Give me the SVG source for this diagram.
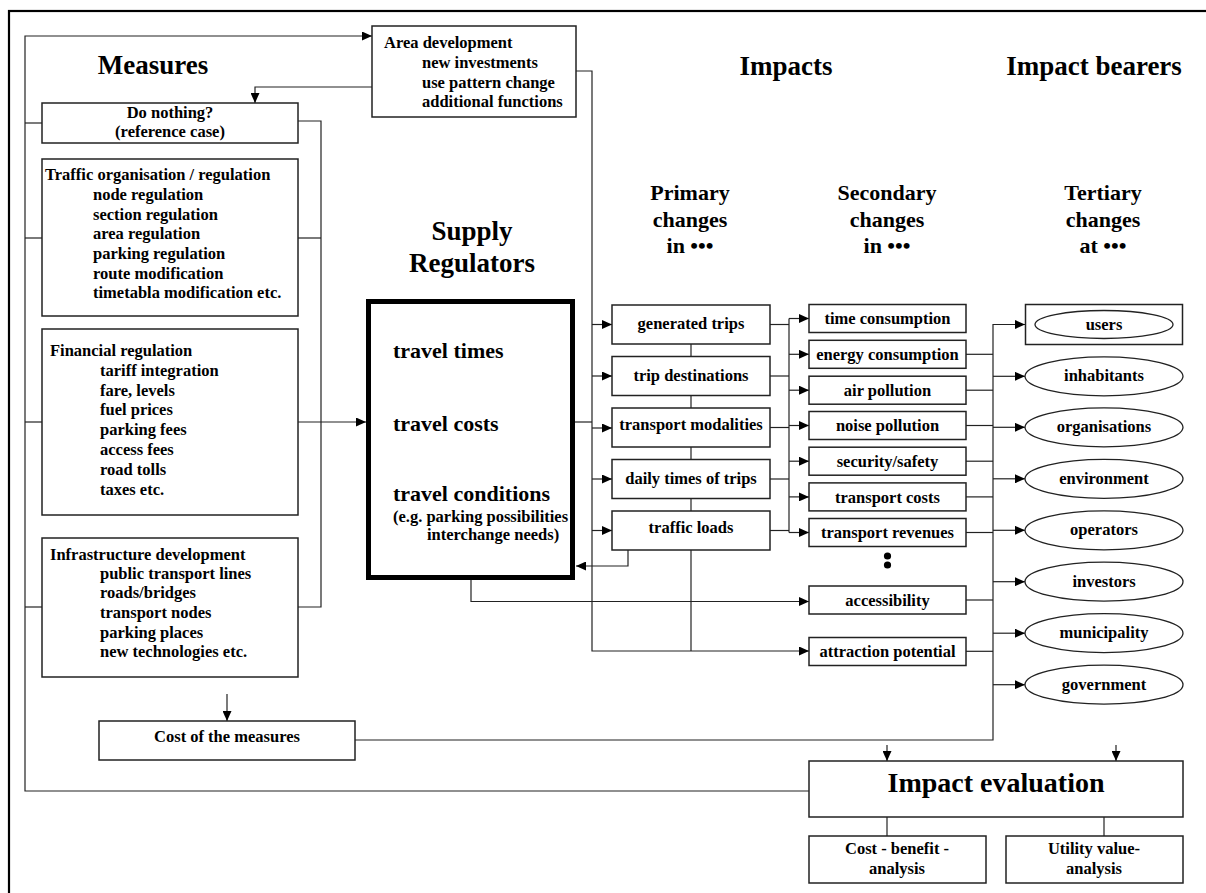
<svg xmlns="http://www.w3.org/2000/svg" width="1206" height="893" viewBox="0 0 1206 893">
  <defs>
    <marker id="arrow" markerUnits="userSpaceOnUse" markerWidth="11" markerHeight="9" refX="10" refY="4.5" orient="auto">
      <path d="M0,0 L10,4.5 L0,9 z" fill="#000"/>
    </marker>
    <style>
      text { font-family: "Liberation Serif", "Times New Roman", serif; font-weight: bold; fill: #000; }
      .box { fill: #fff; stroke: #222; stroke-width: 1.5; }
      .thick { fill: #fff; stroke: #000; stroke-width: 5; }
      .ell { fill: #fff; stroke: #222; stroke-width: 1.3; }
      .title { font-size: 27px; text-anchor: middle; }
      .head { font-size: 22px; text-anchor: middle; }
      .lbl { font-size: 16.5px; }
      .c { text-anchor: middle; }
      .big { font-size: 22px; }
      .conn path { fill: none; stroke: #222; stroke-width: 1.2; }
      .conn path.a { marker-end: url(#arrow); }
    </style>
  </defs>

  <rect width="1206" height="893" fill="#fff"/>
  <!-- page frame (open to the right and bottom) -->
  <rect x="9" y="11" width="1300" height="1000" fill="none" stroke="#000" stroke-width="2.2"/>

  <!-- headings -->
  <g id="headings">
    <text class="title" x="153" y="74">Measures</text>
    <text class="title" x="786" y="75">Impacts</text>
    <text class="title" x="1094" y="75">Impact bearers</text>
    <text class="title" x="472" y="240">Supply</text>
    <text class="title" x="472" y="272">Regulators</text>
    <text class="head" x="690" y="200">Primary</text>
    <text class="head" x="690" y="227">changes</text>
    <text class="head" x="690" y="253">in •••</text>
    <text class="head" x="887" y="200">Secondary</text>
    <text class="head" x="887" y="227">changes</text>
    <text class="head" x="887" y="253">in •••</text>
    <text class="head" x="1103" y="200">Tertiary</text>
    <text class="head" x="1103" y="227">changes</text>
    <text class="head" x="1103" y="253">at •••</text>
  </g>

  <!-- connectors -->
  <g id="connectors" class="conn">
    <!-- feedback loop round the measures -->
    <path class="a" d="M809,791 H25 V36 H372"/>
    <path class="a" d="M372,87 H255 V103"/>
    <!-- left spine -->
    <path d="M25,123 H42"/>
    <path d="M25,238 H42"/>
    <path d="M25,422 H42"/>
    <path d="M25,607 H42"/>
    <!-- right spine -->
    <path d="M298,121 H321 V607 H298"/>
    <path d="M298,238 H321"/>
    <path class="a" d="M298,422 H366"/>
    <!-- measures to cost -->
    <path class="a" d="M227,694 V721"/>
    <!-- cost to bearers bracket -->
    <path class="a" d="M355,740 H993 V324.5 H1025"/>
    <!-- area development to impacts spine -->
    <path class="a" d="M576,71 H592 V651 H809"/>
    <path d="M575,422 H592"/>
    <path class="a" d="M592,324.5 H612"/>
    <path class="a" d="M592,376 H612"/>
    <path class="a" d="M592,428 H612"/>
    <path class="a" d="M592,479 H612"/>
    <path class="a" d="M592,530.5 H612"/>
    <!-- primary chain -->
    <path d="M691,344 V356.5"/>
    <path d="M691,395.5 V408"/>
    <path d="M691,447 V459.5"/>
    <path d="M691,498.5 V511"/>
    <path d="M691,550 V651"/>
    <!-- traffic loads back to supply -->
    <path class="a" d="M628,550 V566 H576"/>
    <!-- supply to accessibility -->
    <path class="a" d="M471,580 V601.5 H809"/>
    <!-- primary to secondary -->
    <path d="M770,324.5 H789"/>
    <path d="M770,376 H789"/>
    <path d="M770,427.5 H789"/>
    <path d="M770,479 H789"/>
    <path d="M770,530.5 H789"/>
    <path d="M789,318.5 V532.5"/>
    <path class="a" d="M789,318.5 H809"/>
    <path class="a" d="M789,354.3 H809"/>
    <path class="a" d="M789,390.2 H809"/>
    <path class="a" d="M789,425.5 H809"/>
    <path class="a" d="M789,461.2 H809"/>
    <path class="a" d="M789,496.9 H809"/>
    <path class="a" d="M789,532.5 H809"/>
    <!-- secondary to bearers -->
    <path d="M966,354.3 H993"/>
    <path d="M966,390.2 H993"/>
    <path d="M966,425.5 H993"/>
    <path d="M966,461.2 H993"/>
    <path d="M966,496.9 H993"/>
    <path d="M966,532.5 H993"/>
    <path d="M966,600 H993"/>
    <path d="M966,651.3 H993"/>
    <path class="a" d="M993,376.3 H1025"/>
    <path class="a" d="M993,427.3 H1025"/>
    <path class="a" d="M993,478.8 H1025"/>
    <path class="a" d="M993,530.3 H1025"/>
    <path class="a" d="M993,581.7 H1025"/>
    <path class="a" d="M993,633.2 H1025"/>
    <path class="a" d="M993,684.7 H1025"/>
    <!-- into evaluation -->
    <path class="a" d="M887,745 V761"/>
    <path class="a" d="M1116,745 V761"/>
    <path d="M887,817 V836"/>
    <path d="M1104,817 V836"/>
  </g>

  <!-- measures -->
  <g id="area-development">
    <rect class="box" x="372" y="26" width="204" height="91"/>
    <text class="lbl" x="384" y="48">Area development</text>
    <text class="lbl" x="422" y="68">new investments</text>
    <text class="lbl" x="422" y="88">use pattern change</text>
    <text class="lbl" x="422" y="107">additional functions</text>
  </g>
  <g id="do-nothing">
    <rect class="box" x="42" y="103" width="256" height="40"/>
    <text class="lbl c" x="170" y="118">Do nothing?</text>
    <text class="lbl c" x="170" y="137">(reference case)</text>
  </g>
  <g id="traffic-organisation">
    <rect class="box" x="42" y="159" width="256" height="157"/>
    <text class="lbl" x="45" y="180">Traffic organisation / regulation</text>
    <text class="lbl" x="93" y="200">node regulation</text>
    <text class="lbl" x="93" y="220">section regulation</text>
    <text class="lbl" x="93" y="239">area regulation</text>
    <text class="lbl" x="93" y="259">parking regulation</text>
    <text class="lbl" x="93" y="279">route modification</text>
    <text class="lbl" x="93" y="298">timetabla modification etc.</text>
  </g>
  <g id="financial-regulation">
    <rect class="box" x="42" y="329" width="256" height="186"/>
    <text class="lbl" x="50" y="356">Financial regulation</text>
    <text class="lbl" x="100" y="376">tariff integration</text>
    <text class="lbl" x="100" y="396">fare, levels</text>
    <text class="lbl" x="100" y="415">fuel prices</text>
    <text class="lbl" x="100" y="435">parking fees</text>
    <text class="lbl" x="100" y="455">access fees</text>
    <text class="lbl" x="100" y="475">road tolls</text>
    <text class="lbl" x="100" y="495">taxes etc.</text>
  </g>
  <g id="infrastructure-development">
    <rect class="box" x="42" y="538" width="256" height="139"/>
    <text class="lbl" x="50" y="560">Infrastructure development</text>
    <text class="lbl" x="100" y="579">public transport lines</text>
    <text class="lbl" x="100" y="598">roads/bridges</text>
    <text class="lbl" x="100" y="618">transport nodes</text>
    <text class="lbl" x="100" y="638">parking places</text>
    <text class="lbl" x="100" y="657">new technologies etc.</text>
  </g>
  <g id="cost-of-measures">
    <rect class="box" x="99" y="721" width="256" height="39"/>
    <text class="lbl c" x="227" y="742">Cost of the measures</text>
  </g>

  <!-- supply regulators -->
  <g id="supply-regulators">
    <rect class="thick" x="368.5" y="301.5" width="204" height="276"/>
    <text class="big" x="393" y="358">travel times</text>
    <text class="big" x="393" y="431">travel costs</text>
    <text class="big" x="393" y="501">travel conditions</text>
    <text class="lbl" x="393" y="522">(e.g. parking possibilities</text>
    <text class="lbl" x="427" y="540">interchange needs)</text>
  </g>

  <!-- primary changes -->
  <g id="generated-trips">
    <rect class="box" x="612" y="305" width="158" height="39"/>
    <text class="lbl c" x="691" y="329">generated trips</text>
  </g>
  <g id="trip-destinations">
    <rect class="box" x="612" y="356.5" width="158" height="39"/>
    <text class="lbl c" x="691" y="381">trip destinations</text>
  </g>
  <g id="transport-modalities">
    <rect class="box" x="612" y="408" width="158" height="39"/>
    <text class="lbl c" x="691" y="430">transport modalities</text>
  </g>
  <g id="daily-times">
    <rect class="box" x="612" y="459.5" width="158" height="39"/>
    <text class="lbl c" x="691" y="484">daily times of trips</text>
  </g>
  <g id="traffic-loads">
    <rect class="box" x="612" y="511" width="158" height="39"/>
    <text class="lbl c" x="691" y="533">traffic loads</text>
  </g>

  <!-- secondary changes -->
  <g id="time-consumption">
    <rect class="box" x="809" y="304.5" width="157" height="28"/>
    <text class="lbl c" x="887.5" y="324">time consumption</text>
  </g>
  <g id="energy-consumption">
    <rect class="box" x="809" y="340.3" width="157" height="28"/>
    <text class="lbl c" x="887.5" y="360">energy consumption</text>
  </g>
  <g id="air-pollution">
    <rect class="box" x="809" y="376.2" width="157" height="28"/>
    <text class="lbl c" x="887.5" y="396">air pollution</text>
  </g>
  <g id="noise-pollution">
    <rect class="box" x="809" y="411.5" width="157" height="28"/>
    <text class="lbl c" x="887.5" y="431">noise pollution</text>
  </g>
  <g id="security-safety">
    <rect class="box" x="809" y="447.2" width="157" height="28"/>
    <text class="lbl c" x="887.5" y="467">security/safety</text>
  </g>
  <g id="transport-costs">
    <rect class="box" x="809" y="482.9" width="157" height="28"/>
    <text class="lbl c" x="887.5" y="503">transport costs</text>
  </g>
  <g id="transport-revenues">
    <rect class="box" x="809" y="518.5" width="157" height="28"/>
    <text class="lbl c" x="887.5" y="538">transport revenues</text>
  </g>
  <g id="more-items">
    <circle cx="887.5" cy="556" r="3.6" fill="#000"/>
    <circle cx="887.5" cy="565" r="3.6" fill="#000"/>
  </g>
  <g id="accessibility">
    <rect class="box" x="809" y="586" width="157" height="28"/>
    <text class="lbl c" x="887.5" y="606">accessibility</text>
  </g>
  <g id="attraction-potential">
    <rect class="box" x="809" y="637.5" width="157" height="28"/>
    <text class="lbl c" x="887.5" y="657">attraction potential</text>
  </g>

  <!-- impact bearers -->
  <g id="users">
    <rect class="box" x="1025.5" y="304.5" width="157" height="40"/>
    <ellipse class="ell" cx="1104" cy="324.5" rx="69" ry="14"/>
    <text class="lbl c" x="1104" y="330">users</text>
  </g>
  <g id="inhabitants">
    <ellipse class="ell" cx="1104" cy="376.3" rx="79" ry="19.5"/>
    <text class="lbl c" x="1104" y="381">inhabitants</text>
  </g>
  <g id="organisations">
    <ellipse class="ell" cx="1104" cy="427.3" rx="79" ry="19.5"/>
    <text class="lbl c" x="1104" y="432">organisations</text>
  </g>
  <g id="environment">
    <ellipse class="ell" cx="1104" cy="478.8" rx="79" ry="19.5"/>
    <text class="lbl c" x="1104" y="483.5">environment</text>
  </g>
  <g id="operators">
    <ellipse class="ell" cx="1104" cy="530.3" rx="79" ry="19.5"/>
    <text class="lbl c" x="1104" y="535">operators</text>
  </g>
  <g id="investors">
    <ellipse class="ell" cx="1104" cy="581.7" rx="79" ry="19.5"/>
    <text class="lbl c" x="1104" y="586.5">investors</text>
  </g>
  <g id="municipality">
    <ellipse class="ell" cx="1104" cy="633.2" rx="79" ry="19.5"/>
    <text class="lbl c" x="1104" y="638">municipality</text>
  </g>
  <g id="government">
    <ellipse class="ell" cx="1104" cy="684.7" rx="79" ry="19.5"/>
    <text class="lbl c" x="1104" y="689.5">government</text>
  </g>

  <!-- evaluation -->
  <g id="impact-evaluation">
    <rect class="box" x="809" y="761" width="374" height="56"/>
    <text class="c" x="996" y="792" font-size="28">Impact evaluation</text>
  </g>
  <g id="cost-benefit-analysis">
    <rect class="box" x="809" y="836" width="177" height="47"/>
    <text class="lbl c" x="897" y="854">Cost - benefit -</text>
    <text class="lbl c" x="897" y="874">analysis</text>
  </g>
  <g id="utility-value-analysis">
    <rect class="box" x="1006" y="836" width="177" height="47"/>
    <text class="lbl c" x="1094" y="854">Utility value-</text>
    <text class="lbl c" x="1094" y="874">analysis</text>
  </g>
</svg>
